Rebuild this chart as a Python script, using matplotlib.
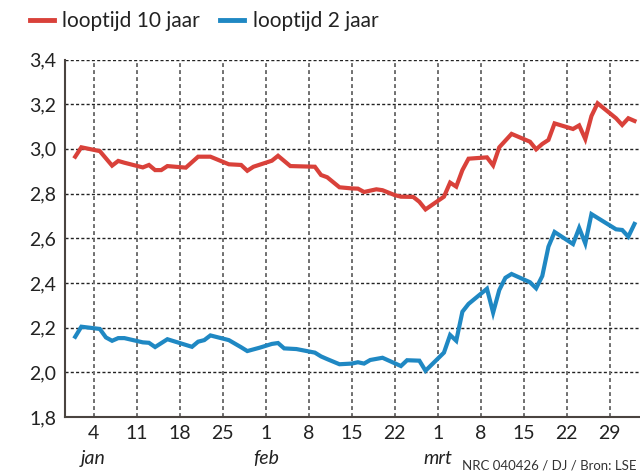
import matplotlib
matplotlib.use("Agg")
import matplotlib.pyplot as plt
from matplotlib.lines import Line2D

plt.rcParams['font.family'] = ['Lato', 'DejaVu Sans']

# day of year 2026 (Jan 1 = 1)
days_10y = [1, 2, 5, 7, 8, 9, 12, 13, 14, 15, 16, 19, 21, 23, 26, 28, 29, 30, 33, 34,
            36, 40, 41, 42, 44, 46, 47, 48, 50, 51, 53, 54, 56, 57, 58, 61, 62, 63, 64, 65,
            68, 69, 70, 72, 75, 76, 77, 78, 79, 82, 83, 84, 85, 86, 89, 90, 91, 92]
yield_10y = [2.965, 3.007, 2.990, 2.925, 2.946, 2.938, 2.917, 2.928, 2.905, 2.905,
             2.923, 2.916, 2.965, 2.965, 2.931, 2.928, 2.902, 2.920, 2.947, 2.969,
             2.923, 2.920, 2.883, 2.873, 2.828, 2.823, 2.822, 2.807, 2.819, 2.815,
             2.793, 2.786, 2.785, 2.763, 2.729, 2.786, 2.849, 2.831, 2.905, 2.956,
             2.962, 2.926, 3.007, 3.067, 3.032, 2.998, 3.022, 3.040, 3.114, 3.089,
             3.105, 3.044, 3.147, 3.204, 3.137, 3.107, 3.137, 3.125]

days_2y = [1, 2, 5, 6, 7, 8, 9, 12, 13, 14, 16, 20, 21, 22, 23, 26, 28, 29, 31, 33,
           34, 35, 37, 40, 41, 42, 44, 46, 47, 48, 49, 51, 54, 55, 57, 58, 61, 62, 63, 64,
           65, 68, 69, 70, 71, 72, 75, 76, 77, 78, 79, 82, 83, 84, 85, 89, 90, 91, 92]
yield_2y = [2.159, 2.204, 2.194, 2.156, 2.141, 2.153, 2.153, 2.134, 2.132, 2.113,
            2.148, 2.114, 2.137, 2.144, 2.165, 2.144, 2.112, 2.095, 2.110, 2.127,
            2.131, 2.107, 2.104, 2.088, 2.071, 2.059, 2.036, 2.039, 2.045, 2.039,
            2.055, 2.065, 2.028, 2.054, 2.052, 2.007, 2.088, 2.167, 2.141, 2.271,
            2.306, 2.374, 2.267, 2.368, 2.423, 2.440, 2.403, 2.376, 2.431, 2.562,
            2.628, 2.574, 2.646, 2.577, 2.708, 2.640, 2.637, 2.607, 2.664]

tick_days = [4, 11, 18, 25, 32, 39, 46, 53, 60, 67, 74, 81, 88]
tick_labels = ['4', '11', '18', '25', '1', '8', '15', '22', '1', '8', '15', '22', '29']
month_days = [4, 32, 60]
month_labels = ['jan', 'feb', 'mrt']
y_ticks = [1.8, 2.0, 2.2, 2.4, 2.6, 2.8, 3.0, 3.2, 3.4]

RED = '#d9413a'
BLUE = '#1f88c3'

fig = plt.figure(figsize=(6.4, 4.76), dpi=100)
ax = fig.add_axes([0.101, 0.124, 0.899, 0.751])

ax.plot(days_10y, yield_10y, color=RED, lw=3, solid_joinstyle='miter', zorder=3)
ax.plot(days_2y, yield_2y, color=BLUE, lw=3, solid_joinstyle='miter', zorder=3)

ax.set_xlim(-0.72, 92.9)
ax.set_ylim(1.8, 3.4)

for y in y_ticks[1:]:
    ax.axhline(y, color='#222222', lw=1.0, ls=(0, (2.2, 1.6)), zorder=1)
for d in tick_days:
    ax.axvline(d, color='#707070', lw=1.4, ls=(0, (2.0, 1.6)), zorder=1)

ax.set_yticks(y_ticks)
ax.set_yticklabels([f"{v:.1f}".replace('.', ',') for v in y_ticks], fontsize=14, color='#222222')
ax.set_xticks(tick_days)
ax.set_xticklabels(tick_labels, fontsize=14, color='#222222')
ax.tick_params(axis='both', length=0, pad=6)

for s in ['top', 'right']:
    ax.spines[s].set_visible(False)
for s in ['left', 'bottom']:
    ax.spines[s].set_color('#4a4440')
    ax.spines[s].set_linewidth(1.5)

for d, lab in zip(month_days, month_labels):
    ax.text(d, -0.115, lab, transform=ax.get_xaxis_transform(), ha='center', va='center',
            fontsize=14, style='italic', color='#222222')

fig.text(0.995, 0.022, 'NRC 040426 / DJ / Bron: LSE', ha='right', va='center',
         fontsize=9.5, color='#333333')

handles = [Line2D([], [], color=RED, lw=3.5), Line2D([], [], color=BLUE, lw=3.5)]
fig.legend(handles, ['looptijd 10 jaar', 'looptijd 2 jaar'], loc='center left',
           bbox_to_anchor=(0.03, 0.955), ncol=2, frameon=False, fontsize=15,
           handlelength=1.15, handletextpad=0.4, columnspacing=1.0, borderpad=0,
           labelcolor='#222222')

fig.savefig('out.png', dpi=100)
